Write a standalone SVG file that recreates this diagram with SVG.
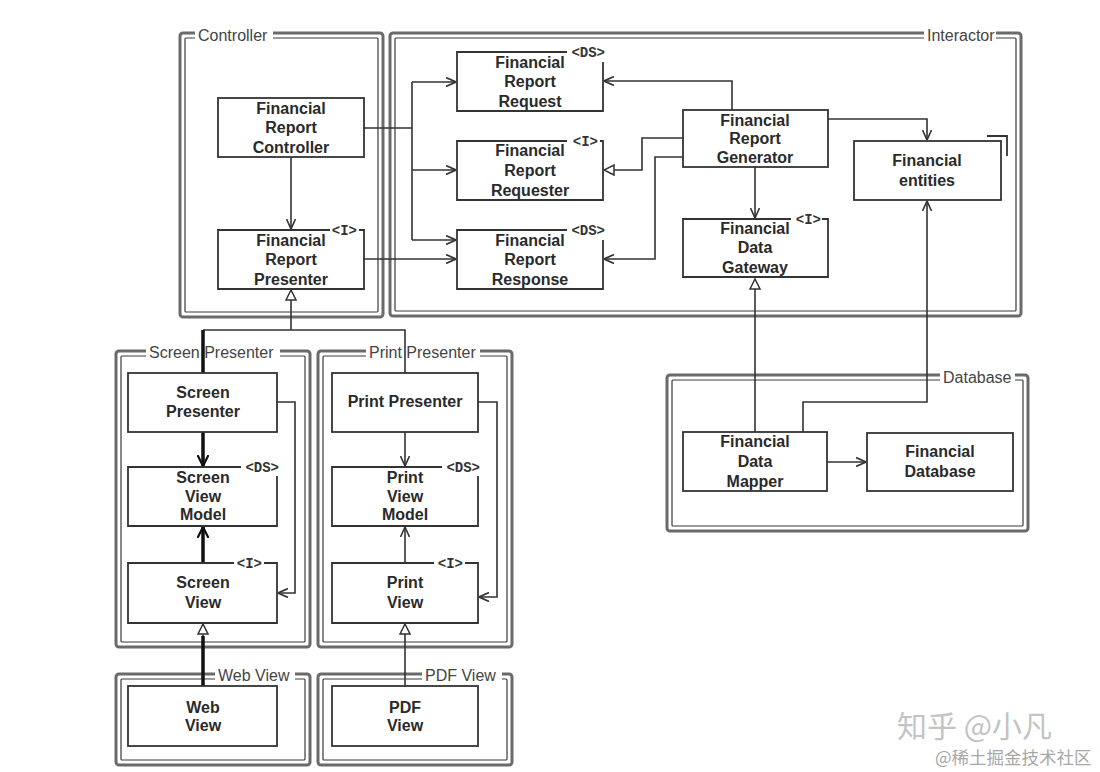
<svg xmlns="http://www.w3.org/2000/svg" width="1100" height="772" viewBox="0 0 1100 772">
<style>
.fo{fill:none;stroke:#6a6a6a;stroke-width:3}
.fi{fill:none;stroke:#3a3a3a;stroke-width:1.2}
.lb{fill:#fff}
.lbl{font-family:"Liberation Sans",Arial,sans-serif;font-size:16px;fill:#444}
.bg{fill:#fff;stroke:none}
.box{fill:#fff;stroke:#333;stroke-width:1.8}
.bd{fill:none;stroke:#333;stroke-width:1.8}
.t{font-family:"Liberation Sans",Arial,sans-serif;font-size:16px;font-weight:bold;fill:#2a2a2a;text-anchor:middle}
.tag{font-family:"Liberation Mono","Courier New",monospace;font-size:14px;font-weight:bold;fill:#333}
.c{fill:none;stroke:#333;stroke-width:1.6}
.k{fill:none;stroke:#111;stroke-width:3.5}
.wm1{font-family:"Noto Sans CJK SC","Liberation Sans",sans-serif;font-size:30px;fill:#c4c4c4}
.wm2{font-family:"Noto Sans CJK SC","Liberation Sans",sans-serif;font-size:17.5px;fill:#a8a8a8}
</style>
<defs>
<marker id="arr" viewBox="0 0 10 10" refX="10" refY="5" markerWidth="10" markerHeight="10" markerUnits="userSpaceOnUse" orient="auto"><path d="M0,0.5 L10,5 L0,9.5" fill="none" stroke="#333" stroke-width="1.6"/></marker>
<marker id="arrk" viewBox="0 0 12 12" refX="11" refY="6" markerWidth="12" markerHeight="12" markerUnits="userSpaceOnUse" orient="auto"><path d="M0,0.5 L11,6 L0,11.5" fill="none" stroke="#111" stroke-width="2.2"/></marker>
<marker id="tri" viewBox="0 0 12 12" refX="11" refY="6" markerWidth="12" markerHeight="12" markerUnits="userSpaceOnUse" orient="auto"><path d="M1,1 L11,6 L1,11 z" fill="#fff" stroke="#333" stroke-width="1.5"/></marker>
</defs>
<rect width="1100" height="772" fill="#fff"/>

<!-- packages -->
<g id="pkg-controller">
<rect class="fo" x="180" y="33" width="203" height="284" rx="3"/>
<rect class="fi" x="185" y="38" width="193" height="274" rx="1"/>
<rect class="lb" x="195" y="28" width="78" height="14"/>
<text class="lbl" x="198" y="41">Controller</text>
</g>
<g id="pkg-interactor">
<rect class="fo" x="390" y="33" width="631" height="283" rx="3"/>
<rect class="fi" x="395" y="38" width="621" height="273" rx="1"/>
<rect class="lb" x="924" y="28" width="72" height="14"/>
<text class="lbl" x="927" y="41">Interactor</text>
</g>
<g id="pkg-database">
<rect class="fo" x="667" y="375" width="361" height="156" rx="3"/>
<rect class="fi" x="672" y="380" width="351" height="146" rx="1"/>
<rect class="lb" x="940" y="370" width="75" height="14"/>
<text class="lbl" x="943" y="383">Database</text>
</g>
<g id="pkg-screen-presenter">
<rect class="fo" x="116" y="351" width="194" height="296" rx="3"/>
<rect class="fi" x="121" y="356" width="184" height="286" rx="1"/>
<rect class="lb" x="146" y="346" width="134" height="14"/>
<text class="lbl" x="149" y="358">Screen Presenter</text>
</g>
<g id="pkg-print-presenter">
<rect class="fo" x="318" y="351" width="194" height="296" rx="3"/>
<rect class="fi" x="323" y="356" width="184" height="286" rx="1"/>
<rect class="lb" x="366" y="346" width="114" height="14"/>
<text class="lbl" x="369" y="358">Print Presenter</text>
</g>
<g id="pkg-web-view">
<rect class="fo" x="116" y="674" width="194" height="91" rx="3"/>
<rect class="fi" x="121" y="679" width="184" height="81" rx="1"/>
<rect class="lb" x="215" y="669" width="80" height="14"/>
<text class="lbl" x="218" y="681">Web View</text>
</g>
<g id="pkg-pdf-view">
<rect class="fo" x="318" y="674" width="194" height="91" rx="3"/>
<rect class="fi" x="323" y="679" width="184" height="81" rx="1"/>
<rect class="lb" x="422" y="669" width="80" height="14"/>
<text class="lbl" x="425" y="681">PDF View</text>
</g>

<!-- connectors -->
<g id="connectors">
<path class="c" d="M291,157 V229" marker-end="url(#arr)"/>
<path class="c" d="M364,128 H412 M412,82 V240"/>
<path class="c" d="M412,82 H456" marker-end="url(#arr)"/>
<path class="c" d="M412,170 H456" marker-end="url(#arr)"/>
<path class="c" d="M412,240 H456" marker-end="url(#arr)"/>
<path class="c" d="M364,259 H456" marker-end="url(#arr)"/>
<path class="c" d="M732,110 V81 H604" marker-end="url(#arr)"/>
<path class="c" d="M683,138 H642 V170 H604" marker-end="url(#tri)"/>
<path class="c" d="M683,157 H655 V259 H604" marker-end="url(#arr)"/>
<path class="c" d="M755,167 V218" marker-end="url(#arr)"/>
<path class="c" d="M828,119 H927 V140" marker-end="url(#arr)"/>
<path class="c" d="M755,432 V279" marker-end="url(#tri)"/>
<path class="c" d="M803,432 V402 H927 V201" marker-end="url(#arr)"/>
<path class="c" d="M827,462 H866" marker-end="url(#arr)"/>
<path class="c" d="M203,330 H405 V373"/>
<path class="c" d="M291,330 V290" marker-end="url(#tri)"/>
<path class="k" d="M203,330 V373"/>
<path class="k" d="M203,432 V466" marker-end="url(#arrk)"/>
<path class="k" d="M203,563 V527" marker-end="url(#arrk)"/>
<path class="c" d="M277,402 H295 V593 H278" marker-end="url(#arr)"/>
<path class="c" d="M405,432 V466" marker-end="url(#arr)"/>
<path class="c" d="M405,563 V527" marker-end="url(#arr)"/>
<path class="c" d="M478,402 H497 V597 H479" marker-end="url(#arr)"/>
<path class="k" d="M203,686 V636"/>
<path class="c" d="M203,636 V624" marker-end="url(#tri)"/>
<path class="c" d="M405,686 V624" marker-end="url(#tri)"/>
</g>

<!-- nodes -->
<g id="n-controller">
<rect class="box" x="218" y="98" width="146" height="59"/>
<text class="t" x="291" y="113.5">Financial</text>
<text class="t" x="291" y="133">Report</text>
<text class="t" x="291" y="152.5">Controller</text>
</g>
<g id="n-presenter">
<rect class="bg" x="218" y="230" width="146" height="59"/>
<path class="bd" d="M330,230 H218 V289 H364 V230 H359"/>
<text class="tag" x="357" y="235" text-anchor="end">&lt;I&gt;</text>
<text class="t" x="291" y="245.5">Financial</text>
<text class="t" x="291" y="265">Report</text>
<text class="t" x="291" y="284.5">Presenter</text>
</g>
<g id="n-request">
<rect class="bg" x="457" y="52" width="146" height="59"/>
<path class="bd" d="M567,52 H457 V111 H603 V62"/>
<text class="tag" x="605" y="57" text-anchor="end">&lt;DS&gt;</text>
<text class="t" x="530" y="67.5">Financial</text>
<text class="t" x="530" y="87">Report</text>
<text class="t" x="530" y="106.5">Request</text>
</g>
<g id="n-requester">
<rect class="bg" x="457" y="141" width="146" height="59"/>
<path class="bd" d="M567,141 H457 V200 H603 V141 H600"/>
<text class="tag" x="598" y="146" text-anchor="end">&lt;I&gt;</text>
<text class="t" x="530" y="156">Financial</text>
<text class="t" x="530" y="175.5">Report</text>
<text class="t" x="530" y="195.5">Requester</text>
</g>
<g id="n-response">
<rect class="bg" x="457" y="230" width="146" height="59"/>
<path class="bd" d="M567,230 H457 V289 H603 V240"/>
<text class="tag" x="605" y="235" text-anchor="end">&lt;DS&gt;</text>
<text class="t" x="530" y="245.5">Financial</text>
<text class="t" x="530" y="265">Report</text>
<text class="t" x="530" y="284.5">Response</text>
</g>
<g id="n-generator">
<rect class="box" x="683" y="110" width="145" height="57"/>
<text class="t" x="755" y="125.5">Financial</text>
<text class="t" x="755" y="144">Report</text>
<text class="t" x="755" y="162.5">Generator</text>
</g>
<g id="n-gateway">
<rect class="bg" x="683" y="219" width="145" height="58"/>
<path class="bd" d="M791,219 H683 V277 H828 V219 H822"/>
<text class="tag" x="821" y="224" text-anchor="end">&lt;I&gt;</text>
<text class="t" x="755" y="233.5">Financial</text>
<text class="t" x="755" y="252.5">Data</text>
<text class="t" x="755" y="272.5">Gateway</text>
</g>
<g id="n-entities">
<rect class="box" x="854" y="141" width="147" height="59"/>
<path class="bd" d="M987,136 H1007 V156"/>
<text class="t" x="927" y="166">Financial</text>
<text class="t" x="927" y="186">entities</text>
</g>
<g id="n-mapper">
<rect class="box" x="683" y="432" width="144" height="59"/>
<text class="t" x="755" y="447">Financial</text>
<text class="t" x="755" y="467">Data</text>
<text class="t" x="755" y="486.5">Mapper</text>
</g>
<g id="n-database">
<rect class="box" x="867" y="433" width="146" height="58"/>
<text class="t" x="940" y="457">Financial</text>
<text class="t" x="940" y="477">Database</text>
</g>
<g id="n-screen-presenter">
<rect class="box" x="128" y="373" width="149" height="59"/>
<text class="t" x="203" y="397.5">Screen</text>
<text class="t" x="203" y="416.5">Presenter</text>
</g>
<g id="n-screen-view-model">
<rect class="bg" x="128" y="467" width="149" height="59"/>
<path class="bd" d="M241,467 H128 V526 H277 V476"/>
<text class="tag" x="279" y="472" text-anchor="end">&lt;DS&gt;</text>
<text class="t" x="203" y="482.5">Screen</text>
<text class="t" x="203" y="501.5">View</text>
<text class="t" x="203" y="520">Model</text>
</g>
<g id="n-screen-view">
<rect class="bg" x="128" y="563" width="149" height="60"/>
<path class="bd" d="M234,563 H128 V623 H277 V563 H264"/>
<text class="tag" x="262" y="568" text-anchor="end">&lt;I&gt;</text>
<text class="t" x="203" y="588">Screen</text>
<text class="t" x="203" y="608">View</text>
</g>
<g id="n-print-presenter">
<rect class="box" x="332" y="373" width="146" height="59"/>
<text class="t" x="405" y="406.5">Print Presenter</text>
</g>
<g id="n-print-view-model">
<rect class="bg" x="332" y="467" width="146" height="59"/>
<path class="bd" d="M442,467 H332 V526 H478 V476"/>
<text class="tag" x="480" y="472" text-anchor="end">&lt;DS&gt;</text>
<text class="t" x="405" y="482.5">Print</text>
<text class="t" x="405" y="501.5">View</text>
<text class="t" x="405" y="520">Model</text>
</g>
<g id="n-print-view">
<rect class="bg" x="332" y="563" width="146" height="60"/>
<path class="bd" d="M434,563 H332 V623 H478 V563 H465"/>
<text class="tag" x="463" y="568" text-anchor="end">&lt;I&gt;</text>
<text class="t" x="405" y="588">Print</text>
<text class="t" x="405" y="608">View</text>
</g>
<g id="n-web-view">
<rect class="box" x="128" y="686" width="149" height="60"/>
<text class="t" x="203" y="712.5">Web</text>
<text class="t" x="203" y="731">View</text>
</g>
<g id="n-pdf-view">
<rect class="box" x="332" y="686" width="146" height="60"/>
<text class="t" x="405" y="712.5">PDF</text>
<text class="t" x="405" y="731">View</text>
</g>

<g id="watermark">
<text class="wm1" x="897" y="737">知乎 @小凡</text>
<text class="wm2" x="935" y="764">@稀土掘金技术社区</text>
</g>
</svg>
